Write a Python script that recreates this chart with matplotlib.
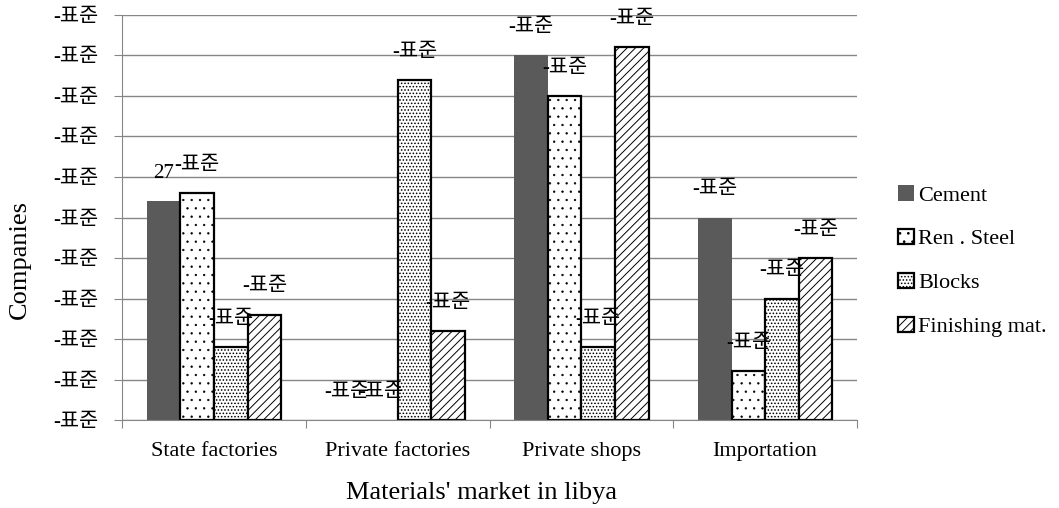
import numpy as np
import matplotlib
matplotlib.use('Agg')
import matplotlib.pyplot as plt

plt.rcParams['font.family'] = ['Liberation Serif', 'Noto Sans CJK KR']

# number of companies per source of material
markets = ['State factories', 'Private factories', 'Private shops', 'Importation']
materials = ['Cement', 'Ren . Steel', 'Blocks', 'Finishing mat.']
cement = [27, 0, 45, 25]
steel = [28, 0, 40, 6]
blocks = [9, 42, 9, 15]
finishing = [13, 11, 46, 20]

# value labels as they come out of the sheet
label_text = '-표준'
cement_labels = ['27', label_text, label_text, label_text]
yticks = np.arange(0, 55, 5)
ytick_labels = [label_text] * len(yticks)

fill_styles = [
    dict(color='#5a5a5a', linewidth=0),
    dict(facecolor='white', edgecolor='black', hatch='..', linewidth=1.6),
    dict(facecolor='white', edgecolor='black', hatch='.....', linewidth=1.6),
    dict(facecolor='white', edgecolor='black', hatch='////', linewidth=1.6),
]
hatch_widths = [0.7, 0.45, 0.7, 0.7]

fig = plt.figure(figsize=(10.59, 5.08), dpi=100)
ax = fig.add_axes([0.1152, 0.1732, 0.6941, 0.7973])

x = np.arange(len(markets))
w = 0.183
series = [cement, steel, blocks, finishing]
for i, (vals, name, st) in enumerate(zip(series, materials, fill_styles)):
    plt.rcParams['hatch.linewidth'] = hatch_widths[i]
    pos = x + (i - 1.5) * w
    bars = ax.bar(pos, vals, w, label=name, zorder=2, **st)
    for b in bars:
        if b.get_height() == 0:
            b.set_linewidth(0)
    texts = cement_labels if i == 0 else [label_text] * len(vals)
    for px, v, t in zip(pos, vals, texts):
        ax.annotate(t, (px, v), xytext=(0, 20), textcoords='offset points',
                    ha='center', va='center', fontsize=15, zorder=3)

ax.set_xlim(-0.5, 3.5)
ax.set_ylim(0, 50)
ax.set_yticks(yticks)
ax.set_yticklabels(ytick_labels, fontsize=15)
ax.tick_params(axis='y', direction='out', length=6, color='#868686', pad=11)

# category separators on the x axis, labels in between
ax.set_xticks(np.arange(-0.5, 4, 1))
ax.set_xticklabels([])
ax.set_xticks(x, minor=True)
ax.set_xticklabels(markets, minor=True, fontsize=16)
ax.tick_params(axis='x', which='major', direction='out', length=6, color='#868686')
ax.tick_params(axis='x', which='minor', length=0, pad=16)

ax.grid(axis='y', color='#868686', linewidth=1)
ax.set_axisbelow(True)
for s in ['top', 'right']:
    ax.spines[s].set_visible(False)
for s in ['left', 'bottom']:
    ax.spines[s].set_color('#868686')

fig.text(0.019, 0.49, 'Companies', rotation=90, ha='center', va='center', fontsize=19)
fig.text(0.455, 0.03, "Materials' market in libya", ha='center', va='center', fontsize=19)

fig.legend(loc='center left', bbox_to_anchor=(0.840, 0.486), frameon=False,
           fontsize=16, handlelength=0.7, handleheight=0.7, handletextpad=0.2,
           labelspacing=1.05, borderaxespad=0)

fig.savefig('out.png', dpi=100)
